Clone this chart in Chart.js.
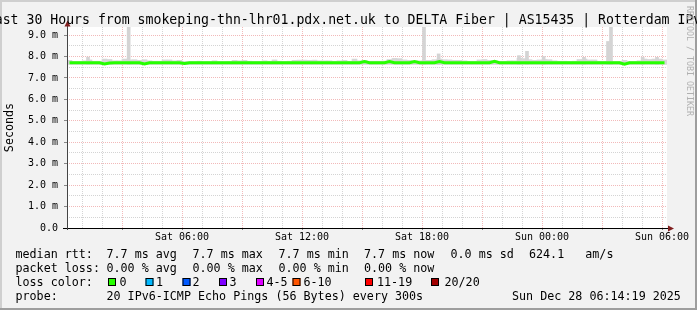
<!DOCTYPE html>
<html>
<head>
<meta charset="utf-8">
<title>SmokePing - DELTA Fiber | AS15435 | Rotterdam IPv6</title>
<script src="https://cdn.jsdelivr.net/npm/chart.js@4"></script>
<style>
  html, body { margin: 0; padding: 0; background: #f2f2f2; }
  canvas { display: block; }
</style>
</head>
<body>
<canvas id="smoke-chart" width="697" height="310"></canvas>
<script>
// time axis in minutes since Sat 00:00 (30 hour window)
const windowStart = 15;
const windowEnd = 1815;
const binMinutes = 15;

const xTickMinutes = [360, 720, 1080, 1440, 1800];
const xTickLabels = ['Sat 06:00', 'Sat 12:00', 'Sat 18:00', 'Sun 00:00', 'Sun 06:00'];
const yTickValues = [0, 1, 2, 3, 4, 5, 6, 7, 8, 9];
const yTickLabels = ['0.0', '1.0 m', '2.0 m', '3.0 m', '4.0 m', '5.0 m', '6.0 m', '7.0 m', '8.0 m', '9.0 m'];

// rtt in ms, one value per 15 min bin
const smokeFloor = 7.63;
const smokeHigh = [
  7.82, 7.77, 7.77, 7.80, 7.84, 7.78, 7.78, 7.88, 7.86, 7.80,
  7.80, 7.88, 7.84, 7.85, 7.82, 7.85, 7.80, 7.78, 7.78, 7.84,
  7.84, 7.80, 7.82, 7.76, 7.76, 7.76, 7.78, 7.76, 7.76, 7.80,
  7.76, 7.76, 7.77, 7.82, 7.80, 7.82, 7.78, 7.77, 7.77, 7.80,
  7.78, 7.84, 7.78, 7.77, 7.78, 7.82, 7.83, 7.83, 7.82, 7.83,
  7.80, 7.80, 7.80, 7.78, 7.80, 7.82, 7.78, 7.88, 7.80, 7.82,
  7.78, 7.78, 7.78, 7.79, 7.86, 7.91, 7.90, 7.84, 7.82, 7.80,
  7.80, 7.82, 7.82, 7.85, 7.88, 7.85, 7.84, 7.82, 7.82, 7.80,
  7.78, 7.78, 7.84, 7.86, 7.82, 7.80, 7.78, 7.78, 7.80, 7.80,
  7.92, 7.90, 7.85, 7.82, 7.84, 7.86, 7.85, 7.80, 7.78, 7.78,
  7.77, 7.78, 7.86, 7.88, 7.84, 7.84, 7.78, 7.78, 7.80, 7.77,
  7.77, 7.82, 7.77, 7.77, 7.80, 7.88, 7.86, 7.88, 7.88, 7.84
];
const medianRtt = [
  7.71, 7.71, 7.71, 7.71, 7.71, 7.71, 7.71, 7.65, 7.70, 7.71,
  7.71, 7.71, 7.71, 7.71, 7.71, 7.65, 7.71, 7.71, 7.71, 7.71,
  7.71, 7.71, 7.71, 7.67, 7.71, 7.71, 7.71, 7.71, 7.71, 7.71,
  7.71, 7.71, 7.71, 7.71, 7.71, 7.71, 7.71, 7.71, 7.71, 7.71,
  7.71, 7.71, 7.71, 7.71, 7.71, 7.71, 7.71, 7.71, 7.71, 7.71,
  7.71, 7.71, 7.71, 7.71, 7.71, 7.71, 7.71, 7.71, 7.71, 7.76,
  7.71, 7.71, 7.71, 7.71, 7.76, 7.71, 7.71, 7.71, 7.71, 7.76,
  7.71, 7.71, 7.71, 7.71, 7.76, 7.71, 7.71, 7.71, 7.71, 7.71,
  7.71, 7.71, 7.71, 7.71, 7.71, 7.77, 7.71, 7.71, 7.71, 7.71,
  7.71, 7.71, 7.71, 7.71, 7.71, 7.71, 7.71, 7.71, 7.71, 7.71,
  7.71, 7.71, 7.71, 7.71, 7.71, 7.71, 7.71, 7.71, 7.71, 7.71,
  7.71, 7.64, 7.71, 7.71, 7.71, 7.71, 7.71, 7.71, 7.71, 7.71
];
// short bursts of slow pings
const spikeMinutes = [78, 200, 1086, 1130, 1371, 1395, 1445, 1566, 1638, 1647, 1742, 1785];
const spikeHigh = [7.97, 9.375, 9.375, 8.12, 8.04, 8.24, 8.00, 7.96, 8.70, 9.375, 7.97, 7.96];

const rttStats = ['7.7 ms avg', '7.7 ms max', '7.7 ms min', '7.7 ms now', '0.0 ms sd', '624.1   am/s'];
const lossStats = ['0.00 % avg', '0.00 % max', '0.00 % min', '0.00 % now'];
const lossLabels = ['0', '1', '2', '3', '4-5', '6-10', '11-19', '20/20'];
const lossColors = ['#26ff00', '#00b8ff', '#0059ff', '#7e00ff', '#dd00ff', '#ff5500', '#ff0000', '#a10000'];

const titleText = 'Last 30 Hours from smokeping-thn-lhr01.pdx.net.uk to DELTA Fiber | AS15435 | Rotterdam IPv6';
const probeText = '20 IPv6-ICMP Echo Pings (56 Bytes) every 300s';
const stampText = 'Sun Dec 28 06:14:19 2025';

const MONO = '"DejaVu Sans Mono", monospace';
const GRID = 'rgba(143,143,143,0.38)';
const MGRID = 'rgba(222,79,79,0.4)';
const ARROW = '#801f1f';

const binX = i => windowStart + binMinutes * (i + 0.5);

const rrdDecor = {
  id: 'rrdDecor',
  beforeDraw(chart) {
    const ctx = chart.ctx, a = chart.chartArea;
    const W = chart.width, H = chart.height;
    ctx.save();
    ctx.fillStyle = '#f2f2f2';
    ctx.fillRect(0, 0, W, H);
    ctx.fillStyle = '#cfcfcf';
    ctx.fillRect(0, 0, W, 2);
    ctx.fillRect(0, 0, 2, H);
    ctx.fillStyle = '#9e9e9e';
    ctx.fillRect(0, H - 2, W, 2);
    ctx.fillRect(W - 2, 0, 2, H);
    ctx.fillStyle = '#ffffff';
    ctx.fillRect(a.left, a.top, a.right - a.left, a.bottom - a.top);
    ctx.restore();
  },
  afterDraw(chart) {
    const ctx = chart.ctx, a = chart.chartArea;
    ctx.save();
    // axis lines + arrows
    ctx.strokeStyle = '#000';
    ctx.lineWidth = 1;
    ctx.beginPath();
    ctx.moveTo(63, a.bottom + 0.5);
    ctx.lineTo(669, a.bottom + 0.5);
    ctx.stroke();
    ctx.strokeStyle = '#444';
    ctx.beginPath();
    ctx.moveTo(a.left + 0.5, a.bottom + 2);
    ctx.lineTo(a.left + 0.5, 25);
    ctx.stroke();
    ctx.fillStyle = ARROW;
    ctx.beginPath();
    ctx.moveTo(a.left + 0.5, 20.5);
    ctx.lineTo(a.left - 2.5, 26.5);
    ctx.lineTo(a.left + 3.5, 26.5);
    ctx.closePath();
    ctx.fill();
    ctx.beginPath();
    ctx.moveTo(674, a.bottom + 0.5);
    ctx.lineTo(668, a.bottom - 2.5);
    ctx.lineTo(668, a.bottom + 3.5);
    ctx.closePath();
    ctx.fill();

    // title
    ctx.fillStyle = '#000';
    ctx.font = '13.2px ' + MONO;
    ctx.textAlign = 'center';
    ctx.textBaseline = 'alphabetic';
    ctx.fillText(titleText, 348, 24);

    // legend
    ctx.font = '11.7px ' + MONO;
    ctx.textAlign = 'left';
    const statX = [106.5, 192.5, 278.5, 364, 450.5, 529];
    ctx.fillText('median rtt:', 15.5, 258);
    rttStats.forEach((s, i) => ctx.fillText(s, statX[i], 258));
    ctx.fillText('packet loss:', 15.5, 272);
    lossStats.forEach((s, i) => ctx.fillText(s, statX[i], 272));
    ctx.fillText('loss color:', 15.5, 286);
    const boxX = [108, 145.5, 182.5, 219, 256, 292.5, 365, 431];
    const labX = [119.5, 156, 192.5, 229.5, 266.5, 303.5, 377, 444.5];
    lossLabels.forEach((lab, i) => {
      ctx.fillStyle = lossColors[i];
      ctx.fillRect(boxX[i], 278, 8, 8);
      ctx.strokeStyle = '#000';
      ctx.strokeRect(boxX[i] + 0.5, 278.5, 7, 7);
      ctx.fillStyle = '#000';
      ctx.fillText(lab, labX[i], 286);
    });
    ctx.fillText('probe:', 15.5, 300);
    ctx.fillText(probeText, 106.5, 300);
    ctx.fillText(stampText, 512, 300);

    // watermark
    ctx.translate(689, 6);
    ctx.rotate(Math.PI / 2);
    ctx.font = '8.3px ' + MONO;
    ctx.fillStyle = '#b0b0b0';
    ctx.textBaseline = 'middle';
    ctx.fillText('RRDTOOL / TOBI OETIKER', 0, 0);
    ctx.restore();
  }
};

new Chart(document.getElementById('smoke-chart'), {
  type: 'bar',
  data: {
    datasets: [
      {
        type: 'line',
        label: 'median rtt',
        data: medianRtt.map((v, i) => ({ x: binX(i), y: v })),
        borderColor: '#26ff00',
        borderWidth: 3,
        pointRadius: 0,
        tension: 0,
        order: 0
      },
      {
        label: 'spikes',
        data: spikeMinutes.map((m, i) => ({ x: m, y: [smokeFloor, spikeHigh[i]] })),
        backgroundColor: '#d4d4d4',
        borderWidth: 0,
        barThickness: 3,
        grouped: false,
        order: 1
      },
      {
        label: 'smoke',
        data: smokeHigh.map((v, i) => ({ x: binX(i), y: [smokeFloor, v] })),
        backgroundColor: '#d6d6d6',
        borderWidth: 0,
        barThickness: 5,
        grouped: false,
        order: 2
      }
    ]
  },
  options: {
    responsive: false,
    animation: false,
    devicePixelRatio: 1,
    layout: { padding: { left: 0, top: 27, right: 30, bottom: 0 } },
    plugins: { legend: { display: false }, tooltip: { enabled: false }, title: { display: false } },
    scales: {
      x: {
        type: 'linear',
        min: windowStart,
        max: windowEnd,
        offset: false,
        afterBuildTicks: s => {
          const t = [];
          for (let m = 60; m <= 1800; m += 60) t.push({ value: m });
          s.ticks = t;
        },
        afterFit: s => { s.height = 82; },
        grid: {
          offset: false,
          color: c => (c.tick && c.tick.value % 180 === 0 ? MGRID : GRID),
          drawTicks: true,
          tickLength: 2,
          tickColor: c => (c.tick && c.tick.value % 180 === 0 ? '#888' : 'rgba(0,0,0,0)')
        },
        border: { display: false, dash: [1, 1] },
        ticks: {
          autoSkip: false,
          maxRotation: 0,
          padding: 1,
          color: '#000',
          font: { family: MONO, size: 10 },
          callback: v => {
            const i = xTickMinutes.indexOf(v);
            return i >= 0 ? xTickLabels[i] : '';
          }
        }
      },
      y: {
        min: 0,
        max: 9.375,
        afterBuildTicks: s => {
          const t = [];
          for (let i = 0; i <= 18; i++) t.push({ value: i / 2 });
          s.ticks = t;
        },
        afterFit: s => { s.width = 67; },
        grid: {
          color: c => (c.tick && Number.isInteger(c.tick.value) ? MGRID : GRID),
          drawTicks: true,
          tickLength: 3,
          tickColor: c => (c.tick && Number.isInteger(c.tick.value) ? '#888' : 'rgba(0,0,0,0)')
        },
        border: { display: false, dash: [1, 1] },
        ticks: {
          autoSkip: false,
          padding: 6,
          color: '#000',
          font: { family: MONO, size: 10 },
          callback: v => {
            const i = yTickValues.indexOf(v);
            return i >= 0 ? yTickLabels[i] : '';
          }
        },
        title: {
          display: true,
          text: 'Seconds',
          color: '#000',
          font: { family: MONO, size: 11.7 },
          padding: { top: 3, bottom: 0 }
        }
      }
    }
  },
  plugins: [rrdDecor]
});
</script>
</body>
</html>
